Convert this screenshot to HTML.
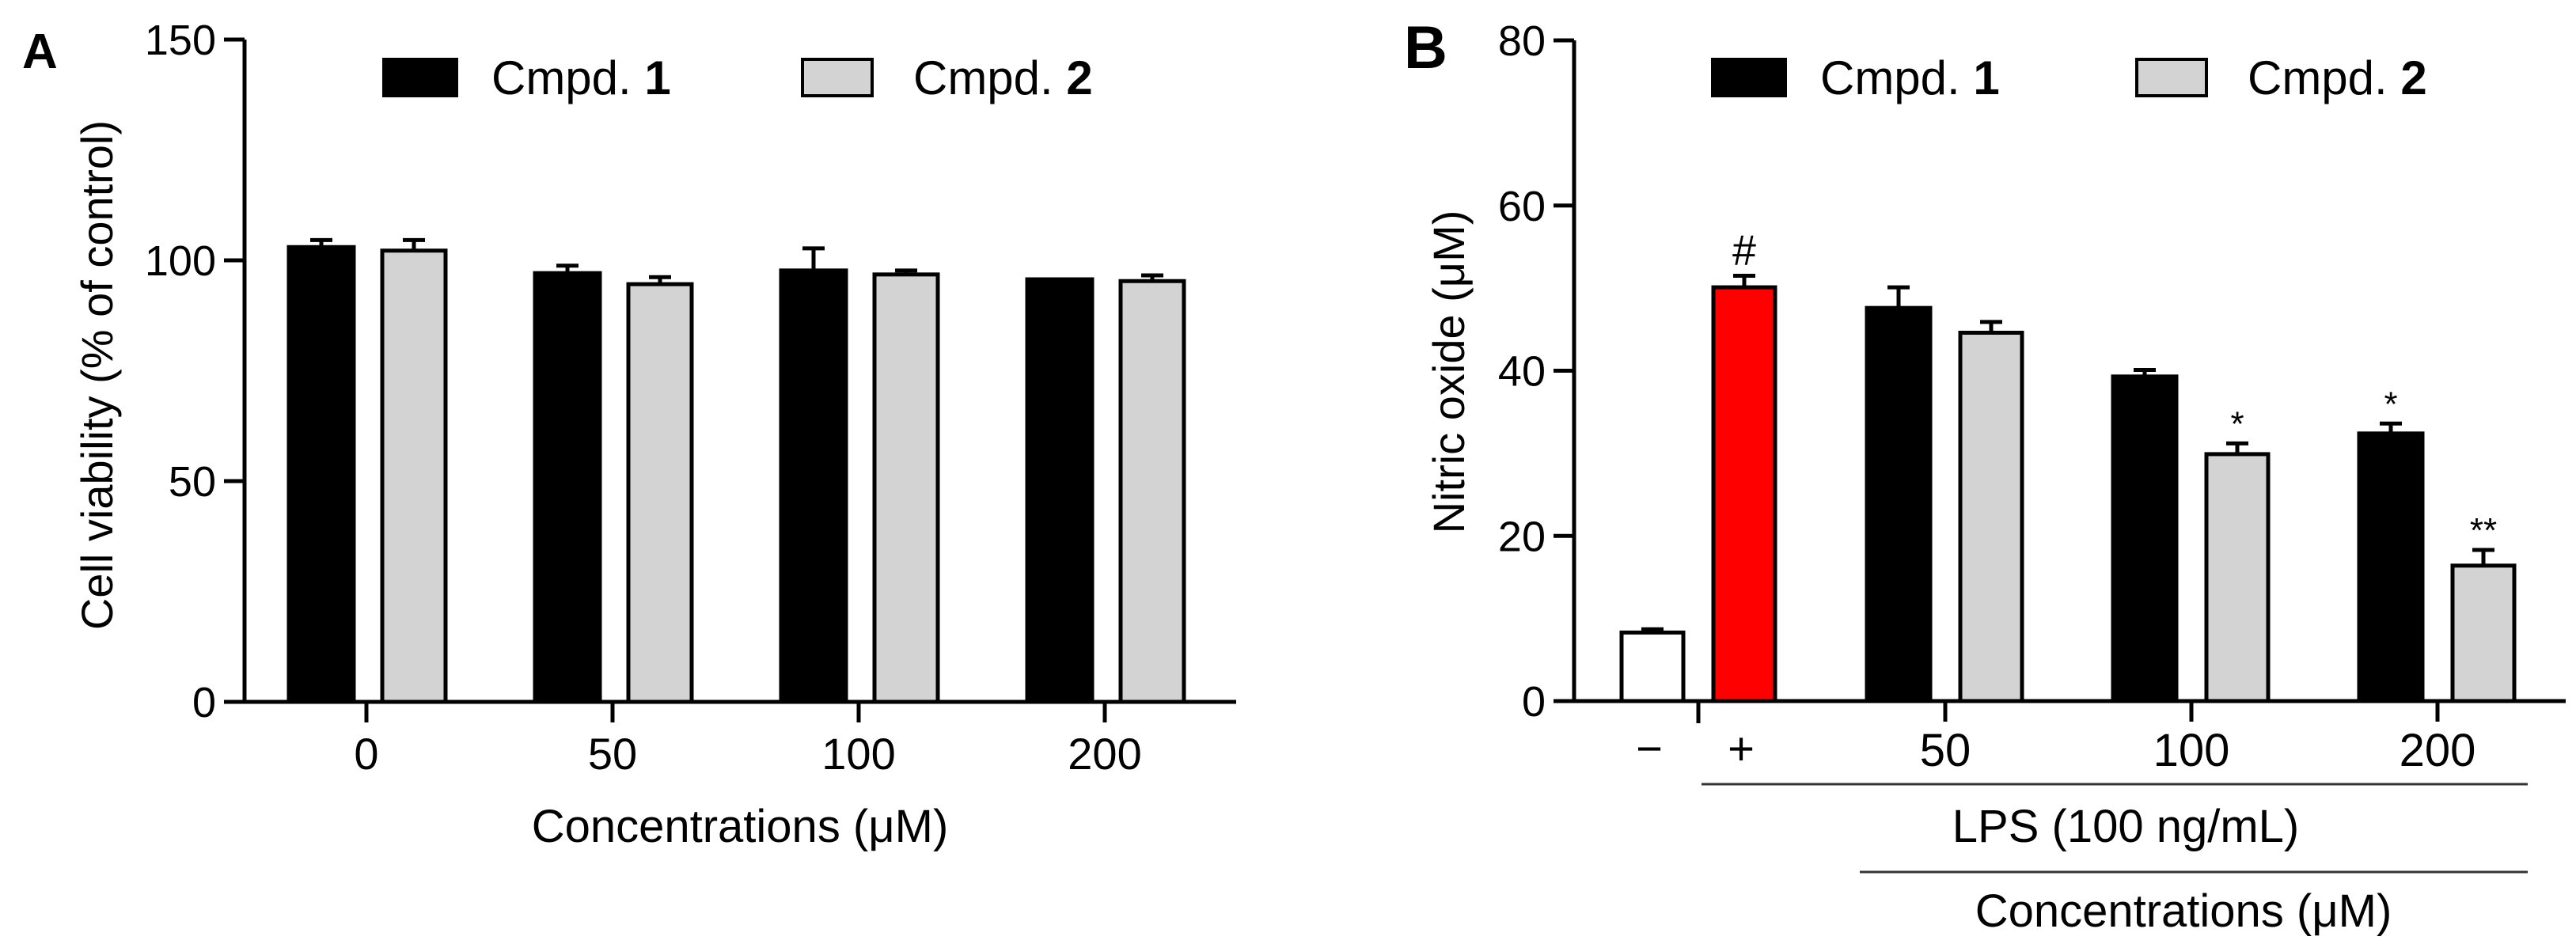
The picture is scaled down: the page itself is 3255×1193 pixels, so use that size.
<!DOCTYPE html>
<html><head><meta charset="utf-8"><style>
html,body{margin:0;padding:0;background:#fff;}
svg{display:block;font-family:"Liberation Sans Narrow","Liberation Sans",sans-serif;}
</style></head><body>
<svg id="c" width="3255" height="1193" viewBox="0 0 3255 1193" xmlns="http://www.w3.org/2000/svg">
<g id="pa"></g>
<g id="pb"></g>
</svg>
<script>
// Panel A data
const aCategories = ["0", "50", "100", "200"];
const aCmpd1 = [103, 97.1, 97.7, 95.7];
const aCmpd1Err = [1.6, 1.7, 5.0, 0];
const aCmpd2 = [102.2, 94.6, 96.8, 95.3];
const aCmpd2Err = [2.4, 1.6, 0.9, 1.3];
const aTicks = [0, 50, 100, 150];
// Panel B data
const bControlLabels = ["\u2212", "+"];
const bControl = [8.3, 50.1];
const bControlErr = [0.4, 1.4];
const bCategories = ["50", "100", "200"];
const bCmpd1 = [47.6, 39.3, 32.4];
const bCmpd1Err = [2.5, 0.8, 1.2];
const bCmpd2 = [44.6, 29.9, 16.4];
const bCmpd2Err = [1.3, 1.3, 1.9];
const bCmpd1Sig = ["", "", "*"];
const bCmpd2Sig = ["", "*", "**"];
const bControlSig = ["", "#"];
const bTicks = [0, 20, 40, 60, 80];

const NS = "http://www.w3.org/2000/svg";
function mk(parent, tag, attrs, text) {
  const e = document.createElementNS(NS, tag);
  for (const k in attrs) e.setAttribute(k, attrs[k]);
  if (text !== undefined) e.textContent = text;
  parent.appendChild(e);
  return e;
}
function bar(g, cx, w, y0, yv, ye, fill, name) {
  const r = mk(g, "rect", {x: cx - w/2, y: yv, width: w, height: y0 - yv, fill: fill, stroke: "#000", "stroke-width": 5});
  
  
  if (ye < yv - 1) {
    const e = mk(g, "path", {d: `M${cx} ${yv} V${ye} M${cx - 14} ${ye} H${cx + 14}`, stroke: "#000", "stroke-width": 5, fill: "none"});
    
    
  }
}
function legend(g, x1, x2, y) {
  const b1 = mk(g, "rect", {x: x1, y: y, width: 92, height: 46, fill: "#000", stroke: "#000", "stroke-width": 4});
  
  
  const t1 = mk(g, "text", {x: x1 + 136, y: y + 44, "font-size": 60});
  
  
  t1.appendChild(document.createTextNode("Cmpd. "));
  mk(t1, "tspan", {"font-weight": "bold"}, "1");
  const b2 = mk(g, "rect", {x: x2, y: y, width: 88, height: 46, fill: "#d3d3d3", stroke: "#000", "stroke-width": 4});
  
  
  const t2 = mk(g, "text", {x: x2 + 140, y: y + 44, "font-size": 60});
  
  
  t2.appendChild(document.createTextNode("Cmpd. "));
  mk(t2, "tspan", {"font-weight": "bold"}, "2");
}
function yAxis(g, ax, y0, yTop, ticks, yScale, xEnd, xStart) {
  const p = mk(g, "path", {d: `M${ax} ${yTop} V${y0} M${xStart} ${y0} H${xEnd}`, stroke: "#000", "stroke-width": 5, fill: "none"});
  
  
  ticks.forEach(t => {
    const y = yScale(t);
    const tk = mk(g, "line", {x1: ax - 26, x2: ax, y1: y, y2: y, stroke: "#000", "stroke-width": 5});
    
    
    const tl = mk(g, "text", {x: ax - 36, y: y + 19, "font-size": 54, "text-anchor": "end"}, String(t));
    
    
  });
}

// ---------- Panel A ----------
(function () {
  const g = document.getElementById("pa");
  const ax = 309, y0 = 887, yTop = 50;
  const ys = v => y0 - (v / 150) * (y0 - yTop);
  const gx = i => 463 + i * 311;
  aCategories.forEach((c, i) => {
    bar(g, gx(i) - 57, 82, y0, ys(aCmpd1[i]), ys(aCmpd1[i] + aCmpd1Err[i]), "#000", "bar-cmpd1-" + c);
    bar(g, gx(i) + 60, 80, y0, ys(aCmpd2[i]), ys(aCmpd2[i] + aCmpd2Err[i]), "#d3d3d3", "bar-cmpd2-" + c);
    const tk = mk(g, "line", {x1: gx(i), x2: gx(i), y1: y0, y2: 913, stroke: "#000", "stroke-width": 5});
    
    
    const tl = mk(g, "text", {x: gx(i), y: 972, "font-size": 56, "text-anchor": "middle"}, c);
    
    
  });
  yAxis(g, ax, y0, yTop, aTicks, ys, 1562, 283);
  legend(g, 485, 1014, 75);
  const xt = mk(g, "text", {x: 935, y: 1064, "font-size": 58, "text-anchor": "middle"}, "Concentrations (\u03bcM)");
  
  
  const yt = mk(g, "text", {x: 0, y: 0, "font-size": 56, "text-anchor": "middle", transform: "translate(142 474) rotate(-90)"}, "Cell viability (% of control)");
  
  
  const pl = mk(g, "text", {x: 28, y: 86, "font-size": 62, "font-weight": "bold", "font-family": "Liberation Sans, sans-serif"}, "A");
  
  
})();

// ---------- Panel B ----------
(function () {
  const g = document.getElementById("pb");
  const ax = 1989, y0 = 886, yTop = 51;
  const ys = v => y0 - (v / 80) * (y0 - yTop);
  const cx = [2088, 2204];
  const cfill = ["#fff", "#ff0000"];
  bControl.forEach((v, i) => {
    bar(g, cx[i], 78, y0, ys(v), ys(v + bControlErr[i]), cfill[i], "bar-control-" + i);
    const tl = mk(g, "text", {x: cx[i] - 4, y: 966, "font-size": 58, "text-anchor": "middle"}, bControlLabels[i]);
    
    
    if (bControlSig[i]) {
      const s = mk(g, "text", {x: cx[i], y: ys(v + bControlErr[i]) - 14, "font-size": 54, "text-anchor": "middle"}, bControlSig[i]);
      
      
    }
  });
  const mtk = mk(g, "line", {x1: 2146, x2: 2146, y1: y0, y2: 914, stroke: "#000", "stroke-width": 5});
  
  
  const gx = i => 2458 + i * 311;
  bCategories.forEach((c, i) => {
    const e1 = ys(bCmpd1[i] + bCmpd1Err[i]), e2 = ys(bCmpd2[i] + bCmpd2Err[i]);
    bar(g, gx(i) - 59, 80, y0, ys(bCmpd1[i]), e1, "#000", "bar-cmpd1-" + c);
    bar(g, gx(i) + 58, 78, y0, ys(bCmpd2[i]), e2, "#d3d3d3", "bar-cmpd2-" + c);
    if (bCmpd1Sig[i]) {
      const s = mk(g, "text", {x: gx(i) - 59, y: e1 - 10, "font-size": 44, "text-anchor": "middle"}, bCmpd1Sig[i]);
      
      
    }
    if (bCmpd2Sig[i]) {
      const s = mk(g, "text", {x: gx(i) + 58, y: e2 - 10, "font-size": 44, "text-anchor": "middle"}, bCmpd2Sig[i]);
      
      
    }
    const tk = mk(g, "line", {x1: gx(i), x2: gx(i), y1: y0, y2: 912, stroke: "#000", "stroke-width": 5});
    
    
    const tl = mk(g, "text", {x: gx(i), y: 968, "font-size": 58, "text-anchor": "middle"}, c);
    
    
  });
  yAxis(g, ax, y0, yTop, bTicks, ys, 3242, 1963);
  legend(g, 2164, 2700, 75);
  const l1 = mk(g, "line", {x1: 2150, x2: 3194, y1: 991, y2: 991, stroke: "#333", "stroke-width": 3});
  
  
  const lt = mk(g, "text", {x: 2686, y: 1064, "font-size": 58, "text-anchor": "middle"}, "LPS (100 ng/mL)");
  
  
  const l2 = mk(g, "line", {x1: 2350, x2: 3194, y1: 1102, y2: 1102, stroke: "#333", "stroke-width": 3});
  
  
  const xt = mk(g, "text", {x: 2759, y: 1171, "font-size": 58, "text-anchor": "middle"}, "Concentrations (\u03bcM)");
  
  
  const yt = mk(g, "text", {x: 0, y: 0, "font-size": 56, "text-anchor": "middle", transform: "translate(1850 470) rotate(-90)"}, "Nitric oxide (\u03bcM)");
  
  
  const pl = mk(g, "text", {x: 1774, y: 86, "font-size": 76, "font-weight": "bold", "font-family": "Liberation Sans, sans-serif"}, "B");
  
  
})();
</script>
</body></html>
